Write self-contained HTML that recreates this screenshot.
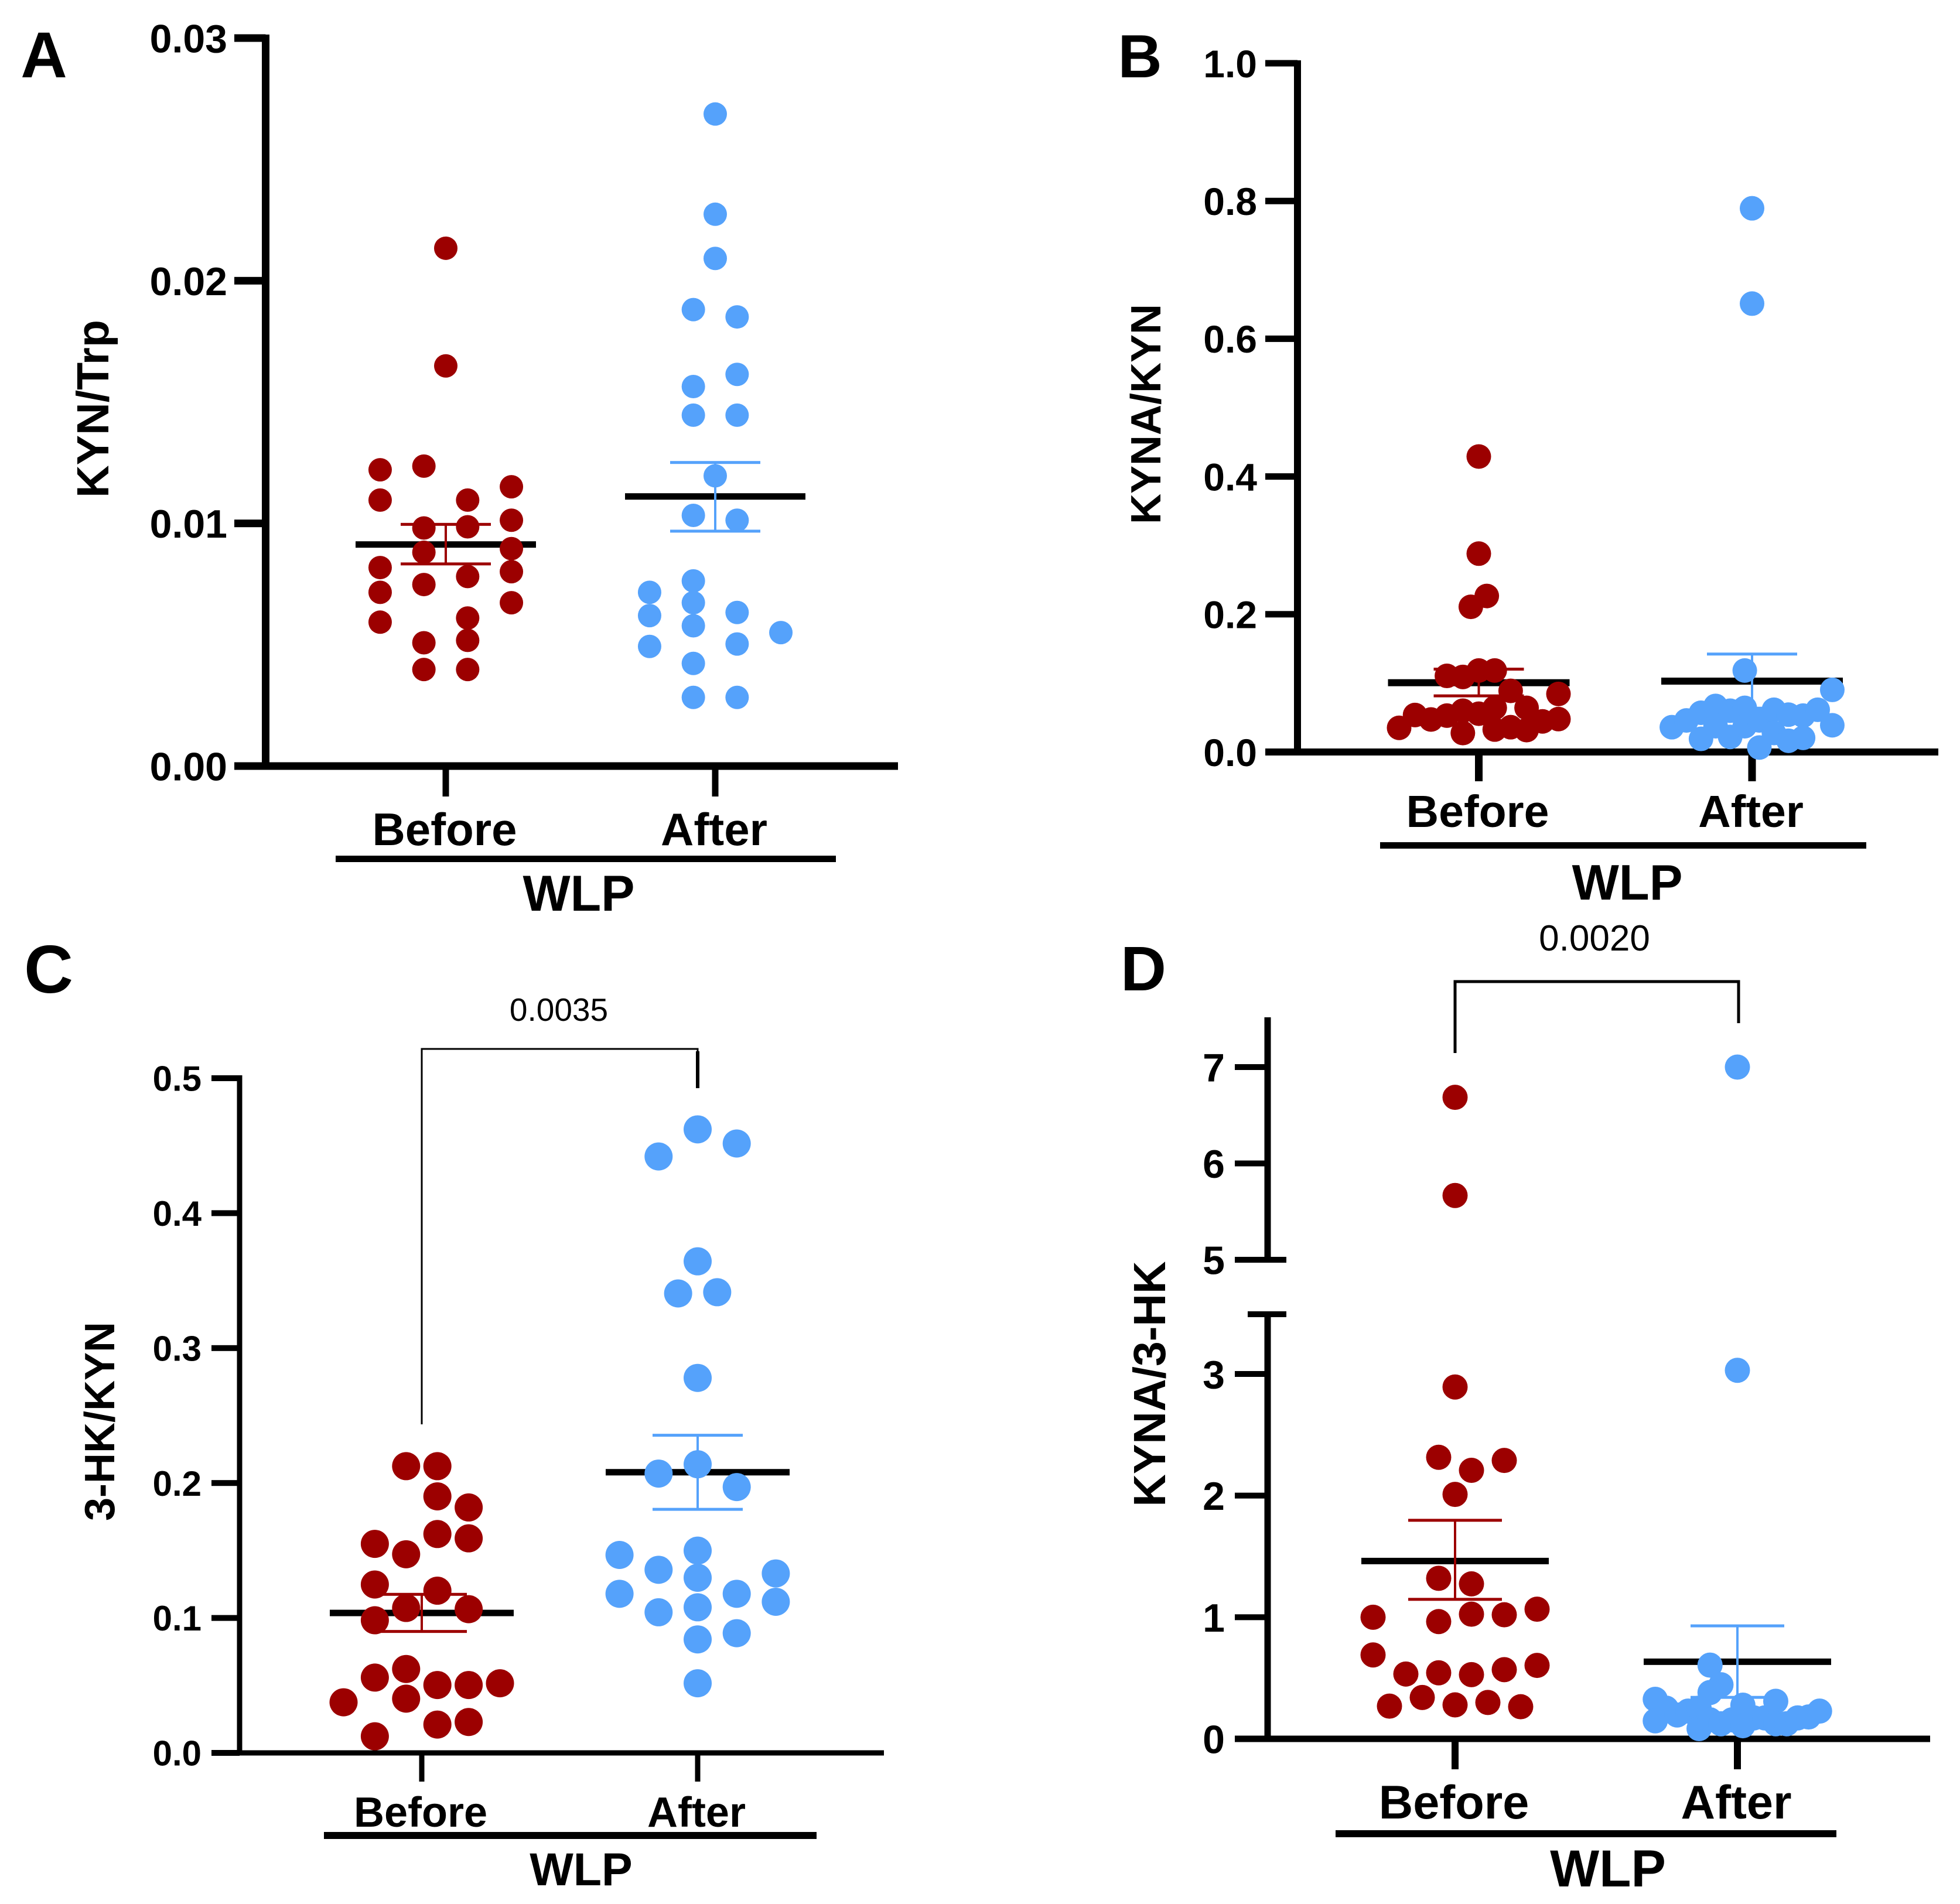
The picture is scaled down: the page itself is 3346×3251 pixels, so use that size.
<!DOCTYPE html>
<html lang="en">
<head>
<meta charset="utf-8">
<title>WLP before and after: kynurenine pathway ratios</title>
<style>
html,body{margin:0;padding:0;background:#fff;}
svg{display:block;}
text{font-family:"Liberation Sans",Arial,sans-serif;fill:#000;}
.b{font-weight:700;}
</style>
</head>
<body>
<svg id="figure" xmlns="http://www.w3.org/2000/svg" width="3346" height="3251" viewBox="0 0 3346 3251">
<rect width="3346" height="3251" fill="#fff"/>

<text class="b" x="75" y="132" font-size="110" text-anchor="middle">A</text>
<text class="b" x="1946" y="132" font-size="104" text-anchor="middle">B</text>
<text class="b" x="83" y="1695" font-size="116" text-anchor="middle">C</text>
<text class="b" x="1952" y="1691" font-size="108" text-anchor="middle">D</text>

<text class="b" font-size="77" text-anchor="middle" transform="translate(185 698) rotate(-90)">KYN/Trp</text>
<text class="b" font-size="72" text-anchor="middle" transform="translate(1981 707) rotate(-90)">KYNA/KYN</text>
<text class="b" font-size="72" text-anchor="middle" transform="translate(195 2427) rotate(-90)">3-HK/KYN</text>
<text class="b" font-size="77" text-anchor="middle" transform="translate(1989 2363) rotate(-90)">KYNA/3-HK</text>

<rect x="573" y="1461" width="854" height="11"/>
<rect x="2356" y="1438" width="830" height="11"/>
<rect x="553" y="3128" width="841" height="12"/>
<rect x="2280" y="3125" width="855" height="12"/>

<text class="b" x="988" y="1555" font-size="86" text-anchor="middle">WLP</text>
<text class="b" x="2778" y="1536" font-size="85" text-anchor="middle">WLP</text>
<text class="b" x="992" y="3219" font-size="79" text-anchor="middle">WLP</text>
<text class="b" x="2745" y="3221" font-size="89" text-anchor="middle">WLP</text>

<path d="M720 2432V1791H1191V1858" fill="none" stroke="#000" stroke-width="3"/>
<rect x="1188" y="1795" width="6" height="63"/>
<text x="954" y="1743" font-size="55" text-anchor="middle" fill="#111">0.0035</text>
<path d="M2484 1798V1676H2968V1747" fill="none" stroke="#000" stroke-width="5"/>
<text x="2722" y="1623" font-size="62" text-anchor="middle" fill="#111">0.0020</text>

<g id="panels"></g>
</svg>

<script>
// Shared category labels
const categories = ['Before', 'After'];

// Panel A: KYN/Trp
const aTicks = [0, 0.01, 0.02, 0.03];
const aTickLabels = ['0.00', '0.01', '0.02', '0.03'];
const aBefore = [0.02134, 0.01649, 0.01221, 0.01236, 0.01151, 0.01096, 0.01096, 0.01013, 0.00981, 0.00986, 0.00896, 0.00881, 0.00818, 0.00801, 0.00781, 0.00748, 0.00716, 0.00673, 0.00610, 0.00593, 0.00508, 0.00518, 0.00398, 0.00398];
const aBeforeSlots = [0, 0, -1.5, -0.5, 1.5, -1.5, 0.5, 1.5, -0.5, 0.5, 1.5, -0.5, -1.5, 1.5, 0.5, -0.5, -1.5, 1.5, 0.5, -1.5, -0.5, 0.5, -0.5, 0.5];
const aAfter = [0.02687, 0.02274, 0.02092, 0.01881, 0.01851, 0.01614, 0.01564, 0.01446, 0.01446, 0.01196, 0.01033, 0.01013, 0.00763, 0.00716, 0.00673, 0.00620, 0.00633, 0.00578, 0.00550, 0.00493, 0.00503, 0.00423, 0.00283, 0.00283];
const aAfterSlots = [0, 0, 0, -0.5, 0.5, 0.5, -0.5, -0.5, 0.5, 0, -0.5, 0.5, -0.5, -1.5, -0.5, -1.5, 0.5, -0.5, 1.5, -1.5, 0.5, -0.5, -0.5, 0.5];
const aMeans = [0.00913, 0.01111];
const aUpper = [0.00996, 0.01251];
const aLower = [0.00833, 0.00968];

// Panel B: KYNA/KYN
const bTicks = [0, 0.2, 0.4, 0.6, 0.8, 1.0];
const bTickLabels = ['0.0', '0.2', '0.4', '0.6', '0.8', '1.0'];
const bBefore = [0.429, 0.288, 0.2265, 0.2108, 0.0351, 0.0537, 0.0472, 0.0528, 0.1105, 0.0599, 0.1090, 0.0275, 0.0556, 0.1183, 0.0641, 0.1183, 0.0326, 0.0888, 0.0360, 0.0641, 0.0318, 0.0444, 0.0843, 0.0478];
const bBeforeSlots = [0, 0, 0.5, -0.5, -5, -4, -3, -2, -2, -1, -1, -1, 0, 0, 1, 1, 1, 2, 2, 3, 3, 4, 5, 5];
const bAfter = [0.7894, 0.651, 0.036, 0.0458, 0.057, 0.0191, 0.0669, 0.0374, 0.0599, 0.0219, 0.0641, 0.1183, 0.0374, 0.0065, 0.0458, 0.0613, 0.0275, 0.0542, 0.0163, 0.0528, 0.0205, 0.0613, 0.0902, 0.0388];
const bAfterSlots = [0, 0, -5.5, -4.5, -3.5, -3.5, -2.5, -2.5, -1.5, -1.5, -0.5, -0.5, -0.5, 0.5, 0.5, 1.5, 1.5, 2.5, 2.5, 3.5, 3.5, 4.5, 5.5, 5.5];
const bMeans = [0.1006, 0.1029];
const bUpper = [0.1203, 0.1422];
const bLower = [0.0815, 0.0636];

// Panel C: 3-HK/KYN
const cTicks = [0, 0.1, 0.2, 0.3, 0.4, 0.5];
const cTickLabels = ['0.0', '0.1', '0.2', '0.3', '0.4', '0.5'];
const cBefore = [0.2125, 0.2125, 0.1901, 0.1819, 0.1549, 0.1622, 0.1590, 0.1472, 0.1248, 0.1202, 0.1074, 0.1065, 0.0983, 0.0622, 0.0558, 0.0503, 0.0503, 0.0516, 0.0402, 0.0375, 0.0210, 0.0229, 0.0123];
const cBeforeSlots = [-0.5, 0.5, 0.5, 1.5, -1.5, 0.5, 1.5, -0.5, -1.5, 0.5, -0.5, 1.5, -1.5, -0.5, -1.5, 0.5, 1.5, 2.5, -0.5, -2.5, 0.5, 1.5, -1.5];
const cAfter = [0.4621, 0.4516, 0.4420, 0.3643, 0.3405, 0.3414, 0.2779, 0.2139, 0.2070, 0.1970, 0.1499, 0.1467, 0.1357, 0.1330, 0.1298, 0.1179, 0.1179, 0.1120, 0.1079, 0.1042, 0.0887, 0.0841, 0.0516];
const cAfterSlots = [0, 1, -1, 0, -0.5, 0.5, 0, 0, -1, 1, 0, -2, -1, 2, 0, -2, 1, 2, 0, -1, 1, 0, 0];
const cMeans = [0.1037, 0.2080];
const cUpper = [0.1175, 0.2354];
const cLower = [0.0900, 0.1805];

// Panel D: KYNA/3-HK (broken axis)
const dTicks = [0, 1, 2, 3, 5, 6, 7];
const dTickLabels = ['0', '1', '2', '3', '5', '6', '7'];
const dBefore = [6.686, 5.667, 2.893, 2.315, 2.289, 2.208, 2.010, 1.320, 1.274, 1.066, 1.025, 1.020, 1.0, 0.964, 0.690, 0.604, 0.569, 0.533, 0.543, 0.528, 0.340, 0.299, 0.269, 0.279, 0.264];
const dBeforeSlots = [0, 0, 0, -0.5, 1.5, 0.5, 0, -0.5, 0.5, 2.5, 0.5, 1.5, -2.5, -0.5, -2.5, 2.5, 1.5, -1.5, -0.5, 0.5, -1, 1, -2, 0, 2];
const dAfter = [7.0, 3.03, 0.606, 0.445, 0.381, 0.325, 0.148, 0.252, 0.196, 0.228, 0.252, 0.084, 0.156, 0.124, 0.156, 0.277, 0.108, 0.172, 0.172, 0.309, 0.124, 0.124, 0.172, 0.18, 0.228];
const dAfterSlots = [0, 0, -2.5, -1.5, -2.5, -7.5, -7.5, -6.5, -5.5, -4.5, -3.5, -3.5, -2.5, -1.5, -0.5, 0.5, 0.5, 1.5, 2.5, 3.5, 3.5, 4.5, 5.5, 6.5, 7.5];
const dMeans = [1.462, 0.634];
const dUpper = [1.797, 0.929];
const dLower = [1.147, 0.341];

const RED = '#9c0000';
const BLUE = '#55a2fb';
const SVG_NS = 'http://www.w3.org/2000/svg';
const root = document.getElementById('panels');

function linearScale(d0, d1, r0, r1) {
  return function (v) { return r0 + (v - d0) * (r1 - r0) / (d1 - d0); };
}
function brokenScale(lower, upper) {
  return function (v) { return v > 4 ? upper(v) : lower(v); };
}

function addRect(parent, x, y, w, h, fill, name) {
  const el = document.createElementNS(SVG_NS, 'rect');
  el.setAttribute('x', x);
  el.setAttribute('y', y);
  el.setAttribute('width', w);
  el.setAttribute('height', h);
  el.setAttribute('fill', fill);
  
  
  parent.appendChild(el);
  return el;
}
function addText(parent, x, y, str, size, anchor, name) {
  const el = document.createElementNS(SVG_NS, 'text');
  el.setAttribute('x', x);
  el.setAttribute('y', y);
  el.setAttribute('font-size', size);
  el.setAttribute('font-weight', '700');
  el.setAttribute('text-anchor', anchor);
  
  
  el.textContent = str;
  parent.appendChild(el);
  return el;
}
function addGroup(parent, name) {
  const el = document.createElementNS(SVG_NS, 'g');
  
  
  parent.appendChild(el);
  return el;
}

function drawSeries(g, p, i, values, slots, unit, color, means, upper, lower) {
  const cx = p.xCenters[i];
  const key = categories[i].toLowerCase();
  const y = p.y;
  // mean bar
  addRect(g, cx - p.meanHalf, y(means[i]) - p.meanW / 2, p.meanHalf * 2, p.meanW, '#000', 'mean-bar-' + key);
  // error bars
  addRect(g, cx - 2, y(upper[i]), 4, y(lower[i]) - y(upper[i]), color, 'error-stem-' + key);
  addRect(g, cx - p.capHalf, y(upper[i]) - 2.5, p.capHalf * 2, 5, color, 'error-cap-upper-' + key);
  addRect(g, cx - p.capHalf, y(lower[i]) - 2.5, p.capHalf * 2, 5, color, 'error-cap-lower-' + key);
  // points
  for (let k = 0; k < values.length; k++) {
    const c = document.createElementNS(SVG_NS, 'circle');
    c.setAttribute('cx', cx + slots[k] * unit);
    c.setAttribute('cy', y(values[k]));
    c.setAttribute('r', p.r);
    c.setAttribute('fill', color);
    
    
    g.appendChild(c);
  }
}

function drawAxes(g, p) {
  const y = p.y;
  const base = y(0);
  // y-axis spine (one or two segments)
  p.spines.forEach(function (s) {
    addRect(g, p.xAxis - p.axisW / 2, s[0], p.axisW, s[1] - s[0], '#000', 'y-axis-line');
  });
  // baseline
  addRect(g, p.tickLeft, base - p.axisW / 2, p.xRight - p.tickLeft, p.axisW, '#000', 'x-axis-line');
  // y ticks
  p.ticks.forEach(function (t, i) {
    addRect(g, p.tickLeft, y(t) - p.tickW / 2, p.xAxis - p.tickLeft, p.tickW, '#000', 'y-tick');
    addText(g, p.labelRight, y(t) + p.tickFont * 0.36, p.tickLabels[i], p.tickFont, 'end', 'y-tick-label');
  });
  // x ticks and labels
  categories.forEach(function (c, i) {
    addRect(g, p.xCenters[i] - p.xTickW / 2, base, p.xTickW, p.xTickBottom - base, '#000', 'x-tick');
    addText(g, p.xCenters[i] - 2, p.xLabelY, c, p.xFont, 'middle', 'x-tick-label-' + c.toLowerCase());
  });
}

const panels = [
  { name: 'panel-a', y: linearScale(0, 0.03, 1308, 65), ticks: aTicks, tickLabels: aTickLabels,
    xAxis: 453.5, axisW: 13, tickW: 13, xTickW: 11, tickLeft: 400, xRight: 1533, labelRight: 388, tickFont: 68,
    xCenters: [761, 1221], xTickBottom: 1360, xLabelY: 1443, xFont: 78,
    spines: [[59, 1308]], r: 20, meanHalf: 154, meanW: 11, capHalf: 77,
    before: aBefore, beforeSlots: aBeforeSlots, beforeUnit: 74.7, after: aAfter, afterSlots: aAfterSlots, afterUnit: 74.7,
    means: aMeans, upper: aUpper, lower: aLower },
  { name: 'panel-b', y: linearScale(0, 1, 1284, 108), ticks: bTicks, tickLabels: bTickLabels,
    xAxis: 2215, axisW: 12, tickW: 11, xTickW: 13, tickLeft: 2160, xRight: 3309, labelRight: 2146, tickFont: 66,
    xCenters: [2524.5, 2991], xTickBottom: 1334, xLabelY: 1412, xFont: 77,
    spines: [[103, 1284]], r: 21, meanHalf: 155, meanW: 12, capHalf: 77,
    before: bBefore, beforeSlots: bBeforeSlots, beforeUnit: 27.2, after: bAfter, afterSlots: bAfterSlots, afterUnit: 24.9,
    means: bMeans, upper: bUpper, lower: bLower },
  { name: 'panel-c', y: linearScale(0, 0.5, 2993, 1841), ticks: cTicks, tickLabels: cTickLabels,
    xAxis: 409, axisW: 9, tickW: 10, xTickW: 9, tickLeft: 361, xRight: 1509, labelRight: 344, tickFont: 60,
    xCenters: [720, 1191], xTickBottom: 3042, xLabelY: 3119, xFont: 72,
    spines: [[1836, 2993]], r: 24, meanHalf: 157, meanW: 11, capHalf: 77,
    before: cBefore, beforeSlots: cBeforeSlots, beforeUnit: 53.4, after: cAfter, afterSlots: cAfterSlots, afterUnit: 66.7,
    means: cMeans, upper: cUpper, lower: cLower },
  { name: 'panel-d',
    y: brokenScale(linearScale(0, 3, 2969, 2346), linearScale(5, 7, 2151, 1822)),
    ticks: dTicks, tickLabels: dTickLabels,
    xAxis: 2164, axisW: 11, tickW: 10, xTickW: 12, tickLeft: 2108, xRight: 3295, labelRight: 2091, tickFont: 68,
    xCenters: [2484, 2966], xTickBottom: 3021, xLabelY: 3105, xFont: 81,
    spines: [[1737, 2151], [2244, 2969]], r: 21.5, meanHalf: 160, meanW: 11, capHalf: 80,
    before: dBefore, beforeSlots: dBeforeSlots, beforeUnit: 56, after: dAfter, afterSlots: dAfterSlots, afterUnit: 18.7,
    means: dMeans, upper: dUpper, lower: dLower }
];

panels.forEach(function (p) {
  const g = addGroup(root, p.name);
  drawSeries(g, p, 0, p.before, p.beforeSlots, p.beforeUnit, RED, p.means, p.upper, p.lower);
  drawSeries(g, p, 1, p.after, p.afterSlots, p.afterUnit, BLUE, p.means, p.upper, p.lower);
  drawAxes(g, p);
  // keep the points on top of the axes where they overlap the baseline
  const pts = Array.from(g.querySelectorAll('circle'));
  pts.forEach(function (c) { g.appendChild(c); });
});

// Broken-axis end caps on panel D
const dGroup = root.lastChild;
addRect(dGroup, 2130, 2146, 66, 10, '#000', 'axis-break-cap-upper');
addRect(dGroup, 2130, 2239, 66, 10, '#000', 'axis-break-cap-lower');
</script>
</body>
</html>
